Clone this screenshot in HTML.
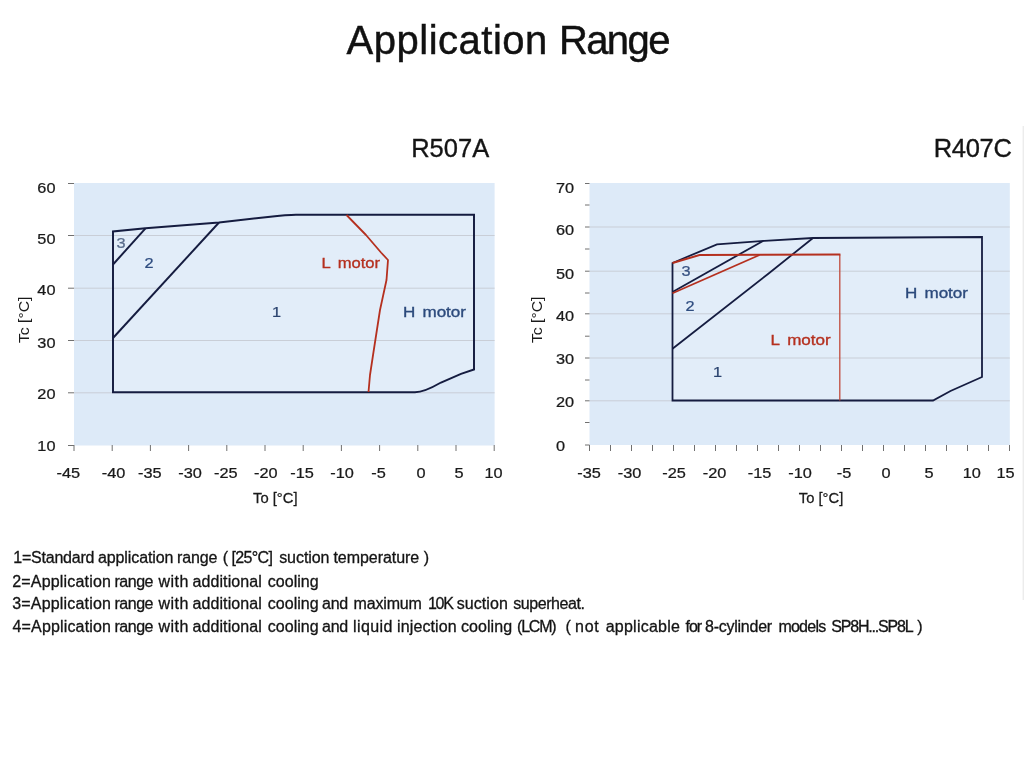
<!DOCTYPE html>
<html lang="en">
<head>
<meta charset="utf-8">
<title>Application Range</title>
<style>
  html, body { margin: 0; padding: 0; background: #ffffff; }
  body { width: 1024px; height: 768px; position: relative; overflow: hidden;
         font-family: "Liberation Sans", "DejaVu Sans", sans-serif; color: #141414; }
  h1 { position: absolute; left: 346.6px; top: 16.6px; margin: 0; white-space: nowrap;
       font-weight: 400; font-size: 40px; line-height: 46px; color: #111;
       -webkit-text-stroke: 0.45px #111; }
  h1 .w1 { letter-spacing: 0.5px; }
  h1 .w2 { letter-spacing: -1.6px; }
  svg { position: absolute; left: 0; top: 0; }
  svg text { font-family: "Liberation Sans", "DejaVu Sans", sans-serif; }
  .notes { position: absolute; left: 0; top: 0; margin: 0; padding: 0; list-style: none;
           font-size: 16px; line-height: 23px; color: #141414; white-space: nowrap;
           -webkit-text-stroke: 0.3px #141414; }
  .notes li { position: absolute; left: 0; margin: 0; padding: 0; height: 23px; }
  .notes span { position: absolute; top: 0; white-space: pre; }
</style>
</head>
<body>
<h1><span class="w1">Application</span> <span class="w2">Range</span></h1>

<svg width="1024" height="768" viewBox="0 0 1024 768">
  <!-- R507A chart -->
  <text x="489.2" y="157" text-anchor="end" font-size="25.5" fill="#141414" stroke="#141414" stroke-width="0.35">R507A</text>
  <rect x="74" y="183" width="420.6" height="262.5" fill="#ddeaf8"/>
  <path d="M113 392.3 L113 231.5 L145.5 228.3 L219 222.5 L268 217 Q288 214.8 296 214.8 L474 214.8 L474 369.5 L461 373.8 L441 382.5 Q424 392.3 415 392.3 Z" fill="#e2edf9"/>
  <g stroke="#c9ced7" stroke-width="1">
  <line x1="74" y1="235.5" x2="494.6" y2="235.5"/>
  <line x1="74" y1="288.2" x2="494.6" y2="288.2"/>
  <line x1="74" y1="340.5" x2="494.6" y2="340.5"/>
  <line x1="74" y1="392.8" x2="494.6" y2="392.8"/>
  </g>
  <g stroke="#707070" stroke-width="1">
  <line x1="68" y1="235.5" x2="74" y2="235.5"/>
  <line x1="68" y1="288.2" x2="74" y2="288.2"/>
  <line x1="68" y1="340.5" x2="74" y2="340.5"/>
  <line x1="68" y1="392.8" x2="74" y2="392.8"/>
  <line x1="68" y1="183.5" x2="74" y2="183.5"/>
  <line x1="68" y1="445.5" x2="74" y2="445.5"/>
  <line x1="74.0" y1="445" x2="74.0" y2="451"/>
  <line x1="112.2" y1="445" x2="112.2" y2="451"/>
  <line x1="150.4" y1="445" x2="150.4" y2="451"/>
  <line x1="188.6" y1="445" x2="188.6" y2="451"/>
  <line x1="226.8" y1="445" x2="226.8" y2="451"/>
  <line x1="265.0" y1="445" x2="265.0" y2="451"/>
  <line x1="303.2" y1="445" x2="303.2" y2="451"/>
  <line x1="341.4" y1="445" x2="341.4" y2="451"/>
  <line x1="379.6" y1="445" x2="379.6" y2="451"/>
  <line x1="417.8" y1="445" x2="417.8" y2="451"/>
  <line x1="456.0" y1="445" x2="456.0" y2="451"/>
  <line x1="494.2" y1="445" x2="494.2" y2="451"/>
  </g>
  <text transform="translate(55.5,193.0) scale(1.11,1)" text-anchor="end" font-size="14.7" fill="#1a1a1a" stroke="#1a1a1a" stroke-width="0.25">60</text>
  <text transform="translate(55.5,244.1) scale(1.11,1)" text-anchor="end" font-size="14.7" fill="#1a1a1a" stroke="#1a1a1a" stroke-width="0.25">50</text>
  <text transform="translate(55.5,295.3) scale(1.11,1)" text-anchor="end" font-size="14.7" fill="#1a1a1a" stroke="#1a1a1a" stroke-width="0.25">40</text>
  <text transform="translate(55.5,347.8) scale(1.11,1)" text-anchor="end" font-size="14.7" fill="#1a1a1a" stroke="#1a1a1a" stroke-width="0.25">30</text>
  <text transform="translate(55.5,399.1) scale(1.11,1)" text-anchor="end" font-size="14.7" fill="#1a1a1a" stroke="#1a1a1a" stroke-width="0.25">20</text>
  <text transform="translate(55.5,451.3) scale(1.11,1)" text-anchor="end" font-size="14.7" fill="#1a1a1a" stroke="#1a1a1a" stroke-width="0.25">10</text>
  <text transform="translate(68.3,478.0) scale(1.11,1)" text-anchor="middle" font-size="14.7" fill="#1a1a1a" stroke="#1a1a1a" stroke-width="0.25">-45</text>
  <text transform="translate(113.5,478.0) scale(1.11,1)" text-anchor="middle" font-size="14.7" fill="#1a1a1a" stroke="#1a1a1a" stroke-width="0.25">-40</text>
  <text transform="translate(149.8,478.0) scale(1.11,1)" text-anchor="middle" font-size="14.7" fill="#1a1a1a" stroke="#1a1a1a" stroke-width="0.25">-35</text>
  <text transform="translate(190.0,478.0) scale(1.11,1)" text-anchor="middle" font-size="14.7" fill="#1a1a1a" stroke="#1a1a1a" stroke-width="0.25">-30</text>
  <text transform="translate(225.9,478.0) scale(1.11,1)" text-anchor="middle" font-size="14.7" fill="#1a1a1a" stroke="#1a1a1a" stroke-width="0.25">-25</text>
  <text transform="translate(265.8,478.0) scale(1.11,1)" text-anchor="middle" font-size="14.7" fill="#1a1a1a" stroke="#1a1a1a" stroke-width="0.25">-20</text>
  <text transform="translate(302.0,478.0) scale(1.11,1)" text-anchor="middle" font-size="14.7" fill="#1a1a1a" stroke="#1a1a1a" stroke-width="0.25">-15</text>
  <text transform="translate(342.0,478.0) scale(1.11,1)" text-anchor="middle" font-size="14.7" fill="#1a1a1a" stroke="#1a1a1a" stroke-width="0.25">-10</text>
  <text transform="translate(378.5,478.0) scale(1.11,1)" text-anchor="middle" font-size="14.7" fill="#1a1a1a" stroke="#1a1a1a" stroke-width="0.25">-5</text>
  <text transform="translate(421.0,478.0) scale(1.11,1)" text-anchor="middle" font-size="14.7" fill="#1a1a1a" stroke="#1a1a1a" stroke-width="0.25">0</text>
  <text transform="translate(459.0,478.0) scale(1.11,1)" text-anchor="middle" font-size="14.7" fill="#1a1a1a" stroke="#1a1a1a" stroke-width="0.25">5</text>
  <text transform="translate(493.5,478.0) scale(1.11,1)" text-anchor="middle" font-size="14.7" fill="#1a1a1a" stroke="#1a1a1a" stroke-width="0.25">10</text>
  <text transform="translate(275.3,502.5) scale(1.02,1)" text-anchor="middle" font-size="14.5" fill="#1a1a1a" stroke="#1a1a1a" stroke-width="0.25">To [°C]</text>
  <text transform="translate(29.3,319.8) rotate(-90) scale(1.1,1)" font-size="14.3" fill="#1a1a1a" text-anchor="middle">Tc [°C]</text>
  <path d="M113 392.3 L113 231.5 L145.5 228.3 L219 222.5 L268 217 Q288 214.8 296 214.8 L474 214.8 L474 369.5 L461 373.8 L441 382.5 Q424 392.3 415 392.3 Z" fill="none" stroke="#151c40" stroke-width="1.95" stroke-linejoin="miter"/>
  <path d="M113 264.5 L145.5 228.3" fill="none" stroke="#151c40" stroke-width="1.95"/>
  <path d="M113 338 L219 222.5" fill="none" stroke="#151c40" stroke-width="1.95"/>
  <path d="M346.5 215 L366 235 L381 252.5 L388 260 L386.5 280 L380 310 L373.5 352 L370 375 L368.5 392" fill="none" stroke="#b5301f" stroke-width="1.8" stroke-linejoin="round"/>
  <text transform="translate(121.0,247.8) scale(1.11,1)" text-anchor="middle" font-size="14.7" fill="#5a6d8c" stroke="#5a6d8c" stroke-width="0.25">3</text>
  <text transform="translate(149.0,267.8) scale(1.11,1)" text-anchor="middle" font-size="14.7" fill="#2f4d80" stroke="#2f4d80" stroke-width="0.25">2</text>
  <text transform="translate(276.5,317.0) scale(1.11,1)" text-anchor="middle" font-size="14.7" fill="#2a436f" stroke="#2a436f" stroke-width="0.25">1</text>
  <text transform="translate(321.5,268.3) scale(1.07,1)" text-anchor="start" font-size="15.5" fill="#b5301f" stroke="#b5301f" stroke-width="0.35">L<tspan dx="6.5">motor</tspan></text>
  <text transform="translate(403.0,316.5) scale(1.1,1)" text-anchor="start" font-size="15.5" fill="#2c4a7c" stroke="#2c4a7c" stroke-width="0.35">H<tspan dx="6.5">motor</tspan></text>
  <!-- R407C chart -->
  <text x="1011.6" y="157" text-anchor="end" font-size="25.5" letter-spacing="-0.3" fill="#141414" stroke="#141414" stroke-width="0.35">R407C</text>
  <rect x="589.5" y="183" width="420.3" height="262" fill="#ddeaf8"/>
  <path d="M672.5 400.5 L672.5 263 L717 244.3 L764.5 240.8 L813 238 L982 237 L982 377 L950.5 391 L933 400.5 Z" fill="#e2edf9"/>
  <g stroke="#c9ced7" stroke-width="1">
  <line x1="589.5" y1="227" x2="1009.8" y2="227"/>
  <line x1="589.5" y1="271.2" x2="1009.8" y2="271.2"/>
  <line x1="589.5" y1="313.8" x2="1009.8" y2="313.8"/>
  <line x1="589.5" y1="358" x2="1009.8" y2="358"/>
  <line x1="589.5" y1="400.8" x2="1009.8" y2="400.8"/>
  </g>
  <g stroke="#707070" stroke-width="1">
  <line x1="585" y1="183.5" x2="589.5" y2="183.5"/>
  <line x1="585" y1="205" x2="589.5" y2="205"/>
  <line x1="585" y1="227" x2="589.5" y2="227"/>
  <line x1="585" y1="249" x2="589.5" y2="249"/>
  <line x1="585" y1="271.2" x2="589.5" y2="271.2"/>
  <line x1="585" y1="293" x2="589.5" y2="293"/>
  <line x1="585" y1="313.8" x2="589.5" y2="313.8"/>
  <line x1="585" y1="336.2" x2="589.5" y2="336.2"/>
  <line x1="585" y1="358" x2="589.5" y2="358"/>
  <line x1="585" y1="380" x2="589.5" y2="380"/>
  <line x1="585" y1="400.8" x2="589.5" y2="400.8"/>
  <line x1="585" y1="422.5" x2="589.5" y2="422.5"/>
  <line x1="585" y1="445" x2="589.5" y2="445"/>
  <line x1="589.5" y1="445" x2="589.5" y2="451"/>
  <line x1="610.5" y1="445" x2="610.5" y2="451"/>
  <line x1="631.5" y1="445" x2="631.5" y2="451"/>
  <line x1="652.5" y1="445" x2="652.5" y2="451"/>
  <line x1="673.5" y1="445" x2="673.5" y2="451"/>
  <line x1="694.5" y1="445" x2="694.5" y2="451"/>
  <line x1="715.5" y1="445" x2="715.5" y2="451"/>
  <line x1="736.5" y1="445" x2="736.5" y2="451"/>
  <line x1="757.5" y1="445" x2="757.5" y2="451"/>
  <line x1="778.5" y1="445" x2="778.5" y2="451"/>
  <line x1="799.5" y1="445" x2="799.5" y2="451"/>
  <line x1="820.5" y1="445" x2="820.5" y2="451"/>
  <line x1="841.5" y1="445" x2="841.5" y2="451"/>
  <line x1="862.5" y1="445" x2="862.5" y2="451"/>
  <line x1="883.5" y1="445" x2="883.5" y2="451"/>
  <line x1="904.5" y1="445" x2="904.5" y2="451"/>
  <line x1="925.5" y1="445" x2="925.5" y2="451"/>
  <line x1="946.5" y1="445" x2="946.5" y2="451"/>
  <line x1="967.5" y1="445" x2="967.5" y2="451"/>
  <line x1="988.5" y1="445" x2="988.5" y2="451"/>
  <line x1="1009.5" y1="445" x2="1009.5" y2="451"/>
  </g>
  <text transform="translate(556.0,193.0) scale(1.11,1)" text-anchor="start" font-size="14.7" fill="#1a1a1a" stroke="#1a1a1a" stroke-width="0.25">70</text>
  <text transform="translate(556.0,234.5) scale(1.11,1)" text-anchor="start" font-size="14.7" fill="#1a1a1a" stroke="#1a1a1a" stroke-width="0.25">60</text>
  <text transform="translate(556.0,278.5) scale(1.11,1)" text-anchor="start" font-size="14.7" fill="#1a1a1a" stroke="#1a1a1a" stroke-width="0.25">50</text>
  <text transform="translate(556.0,321.3) scale(1.11,1)" text-anchor="start" font-size="14.7" fill="#1a1a1a" stroke="#1a1a1a" stroke-width="0.25">40</text>
  <text transform="translate(556.0,364.1) scale(1.11,1)" text-anchor="start" font-size="14.7" fill="#1a1a1a" stroke="#1a1a1a" stroke-width="0.25">30</text>
  <text transform="translate(556.0,407.3) scale(1.11,1)" text-anchor="start" font-size="14.7" fill="#1a1a1a" stroke="#1a1a1a" stroke-width="0.25">20</text>
  <text transform="translate(556.0,450.8) scale(1.11,1)" text-anchor="start" font-size="14.7" fill="#1a1a1a" stroke="#1a1a1a" stroke-width="0.25">0</text>
  <text transform="translate(589.0,478.0) scale(1.11,1)" text-anchor="middle" font-size="14.7" fill="#1a1a1a" stroke="#1a1a1a" stroke-width="0.25">-35</text>
  <text transform="translate(629.5,478.0) scale(1.11,1)" text-anchor="middle" font-size="14.7" fill="#1a1a1a" stroke="#1a1a1a" stroke-width="0.25">-30</text>
  <text transform="translate(674.0,478.0) scale(1.11,1)" text-anchor="middle" font-size="14.7" fill="#1a1a1a" stroke="#1a1a1a" stroke-width="0.25">-25</text>
  <text transform="translate(714.5,478.0) scale(1.11,1)" text-anchor="middle" font-size="14.7" fill="#1a1a1a" stroke="#1a1a1a" stroke-width="0.25">-20</text>
  <text transform="translate(759.5,478.0) scale(1.11,1)" text-anchor="middle" font-size="14.7" fill="#1a1a1a" stroke="#1a1a1a" stroke-width="0.25">-15</text>
  <text transform="translate(800.0,478.0) scale(1.11,1)" text-anchor="middle" font-size="14.7" fill="#1a1a1a" stroke="#1a1a1a" stroke-width="0.25">-10</text>
  <text transform="translate(844.0,478.0) scale(1.11,1)" text-anchor="middle" font-size="14.7" fill="#1a1a1a" stroke="#1a1a1a" stroke-width="0.25">-5</text>
  <text transform="translate(886.0,478.0) scale(1.11,1)" text-anchor="middle" font-size="14.7" fill="#1a1a1a" stroke="#1a1a1a" stroke-width="0.25">0</text>
  <text transform="translate(929.0,478.0) scale(1.11,1)" text-anchor="middle" font-size="14.7" fill="#1a1a1a" stroke="#1a1a1a" stroke-width="0.25">5</text>
  <text transform="translate(971.8,478.0) scale(1.11,1)" text-anchor="middle" font-size="14.7" fill="#1a1a1a" stroke="#1a1a1a" stroke-width="0.25">10</text>
  <text transform="translate(1005.5,478.0) scale(1.11,1)" text-anchor="middle" font-size="14.7" fill="#1a1a1a" stroke="#1a1a1a" stroke-width="0.25">15</text>
  <text transform="translate(821.0,502.5) scale(1.02,1)" text-anchor="middle" font-size="14.5" fill="#1a1a1a" stroke="#1a1a1a" stroke-width="0.25">To [°C]</text>
  <text transform="translate(542.3,319.8) rotate(-90) scale(1.1,1)" font-size="14.3" fill="#1a1a1a" text-anchor="middle">Tc [°C]</text>
  <path d="M672.5 400.5 L672.5 263 L717 244.3 L764.5 240.8 L813 238 L982 237 L982 377 L950.5 391 L933 400.5 Z" fill="none" stroke="#151c40" stroke-width="1.8" stroke-linejoin="miter"/>
  <path d="M672.5 292 L763 241" fill="none" stroke="#151c40" stroke-width="1.8"/>
  <path d="M672.5 348.8 L768 274 L813 238" fill="none" stroke="#151c40" stroke-width="1.8"/>
  <path d="M839.8 254.5 L839.8 400.5" fill="none" stroke="#c04a3c" stroke-width="1.3"/>
  <path d="M672.5 263 L699.5 255 L840.4 254.5" fill="none" stroke="#b5301f" stroke-width="1.9" stroke-linejoin="miter"/>
  <path d="M672.5 293.3 L759.5 255" fill="none" stroke="#b5301f" stroke-width="1.8"/>
  <text transform="translate(686.0,276.0) scale(1.11,1)" text-anchor="middle" font-size="14.7" fill="#3a5484" stroke="#3a5484" stroke-width="0.25">3</text>
  <text transform="translate(690.0,311.3) scale(1.11,1)" text-anchor="middle" font-size="14.7" fill="#2f4d80" stroke="#2f4d80" stroke-width="0.25">2</text>
  <text transform="translate(717.5,377.3) scale(1.11,1)" text-anchor="middle" font-size="14.7" fill="#2a436f" stroke="#2a436f" stroke-width="0.25">1</text>
  <text transform="translate(905.0,297.8) scale(1.1,1)" text-anchor="start" font-size="15.5" fill="#2c4a7c" stroke="#2c4a7c" stroke-width="0.35">H<tspan dx="6.5">motor</tspan></text>
  <text transform="translate(770.5,345.3) scale(1.1,1)" text-anchor="start" font-size="15.5" fill="#b5301f" stroke="#b5301f" stroke-width="0.35">L<tspan dx="6.5">motor</tspan></text>
  <rect x="1022.6" y="126" width="1.4" height="474" fill="#ececec"/>
</svg>

<ul class="notes">
  <li style="top:546.3px">
    <span style="left:13.3px;letter-spacing:-0.23px">1=Standard </span>
    <span style="left:98.0px;letter-spacing:-0.11px">application </span>
    <span style="left:176.9px;letter-spacing:-0.08px">range </span>
    <span style="left:222.7px;letter-spacing:0.00px">( </span>
    <span style="left:231.4px;letter-spacing:-0.63px">[25°C] </span>
    <span style="left:279.2px;letter-spacing:-0.07px">suction </span>
    <span style="left:333.4px;letter-spacing:-0.04px">temperature </span>
    <span style="left:423.7px;letter-spacing:0.00px">)</span>
  </li>
  <li style="top:570.3px">
    <span style="left:12.2px;letter-spacing:0.19px">2=Application </span>
    <span style="left:114.4px;letter-spacing:-0.45px">range </span>
    <span style="left:158.4px;letter-spacing:0.49px">with </span>
    <span style="left:192.5px;letter-spacing:0.09px">additional </span>
    <span style="left:267.8px;letter-spacing:0.03px">cooling</span>
  </li>
  <li style="top:592.4px">
    <span style="left:12.2px;letter-spacing:0.19px">3=Application </span>
    <span style="left:114.4px;letter-spacing:-0.45px">range </span>
    <span style="left:158.4px;letter-spacing:0.49px">with </span>
    <span style="left:192.5px;letter-spacing:0.09px">additional </span>
    <span style="left:267.8px;letter-spacing:0.03px">cooling </span>
    <span style="left:322.0px;letter-spacing:-0.26px">and </span>
    <span style="left:353.5px;letter-spacing:-0.16px">maximum </span>
    <span style="left:427.9px;letter-spacing:-1.20px">10K </span>
    <span style="left:456.8px;letter-spacing:0.05px">suction </span>
    <span style="left:513.2px;letter-spacing:-0.43px">superheat.</span>
  </li>
  <li style="top:614.8px">
    <span style="left:12.5px;letter-spacing:0.16px">4=Application </span>
    <span style="left:114.4px;letter-spacing:-0.45px">range </span>
    <span style="left:158.4px;letter-spacing:0.49px">with </span>
    <span style="left:192.5px;letter-spacing:0.09px">additional </span>
    <span style="left:267.8px;letter-spacing:0.03px">cooling </span>
    <span style="left:322.0px;letter-spacing:-0.26px">and </span>
    <span style="left:353.1px;letter-spacing:0.40px">liquid </span>
    <span style="left:397.1px;letter-spacing:0.10px">injection </span>
    <span style="left:460.9px;letter-spacing:0.08px">cooling </span>
    <span style="left:517.0px;letter-spacing:-1.20px">(LCM) </span>
    <span style="left:565.6px;letter-spacing:0.00px">( </span>
    <span style="left:575.1px;letter-spacing:0.64px">not </span>
    <span style="left:605.7px;letter-spacing:0.24px">applicable </span>
    <span style="left:685.6px;letter-spacing:-1.10px">for </span>
    <span style="left:705.1px;letter-spacing:-0.26px">8-cylinder </span>
    <span style="left:778.4px;letter-spacing:-0.75px">models </span>
    <span style="left:831.3px;letter-spacing:-1.20px">SP8H...SP8L </span>
    <span style="left:917.2px;letter-spacing:0.00px">)</span>
  </li>
</ul>
</body>
</html>
